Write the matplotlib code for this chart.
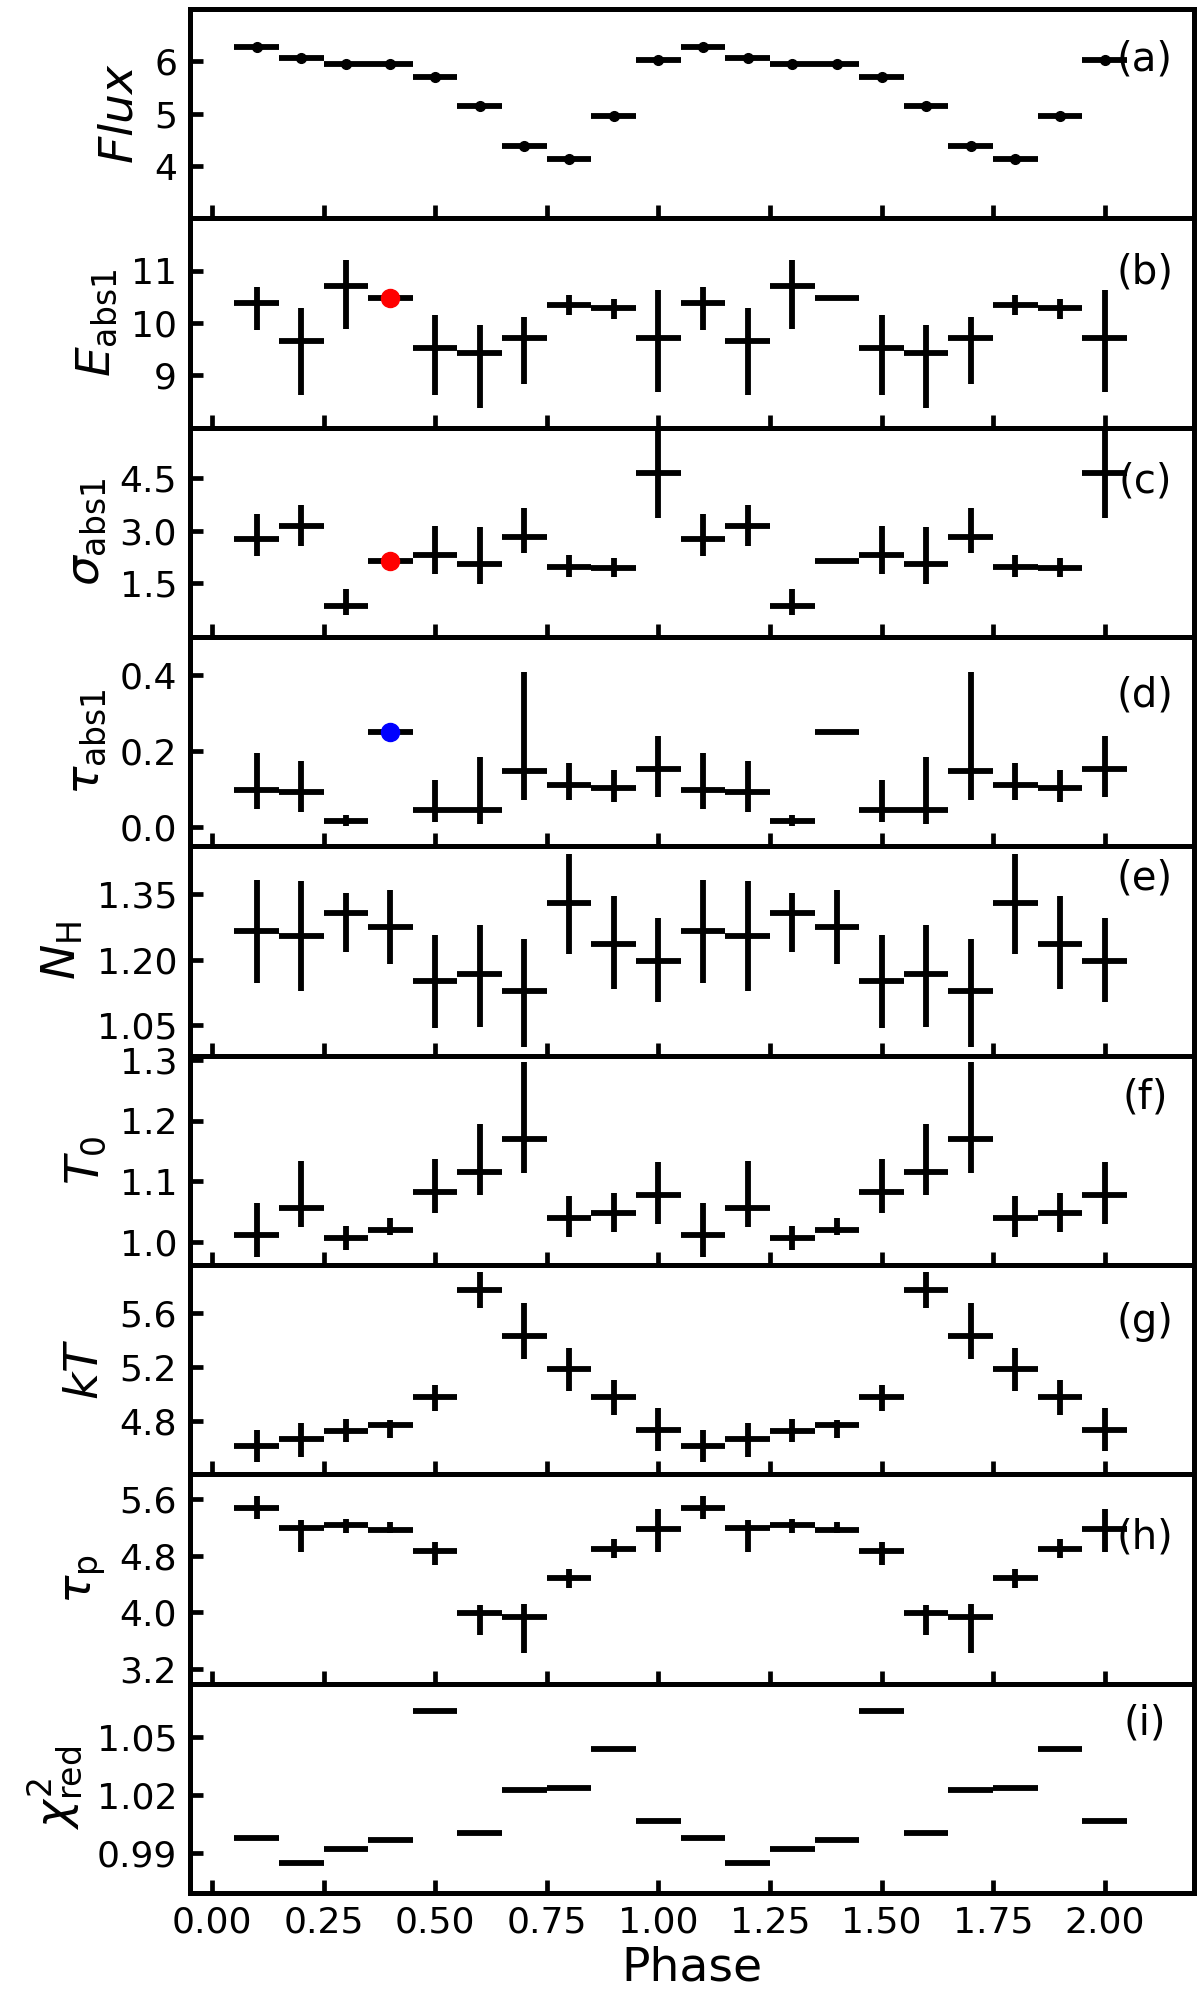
import matplotlib
matplotlib.use("Agg")
import matplotlib.pyplot as plt
import numpy as np

# phase bins of one cycle, the second cycle (1.1 - 2.0) repeats them
phase_cycle = [0.1, 0.2, 0.3, 0.4, 0.5, 0.6, 0.7, 0.8, 0.9, 1.0]
bin_halfwidth = 0.05

# value, lower bound, upper bound of each parameter over one cycle
flux = [6.27, 6.07, 5.94, 5.95, 5.71, 5.14, 4.39, 4.13, 4.95, 6.02]
flux_lo = [6.24, 6.04, 5.91, 5.92, 5.68, 5.11, 4.36, 4.10, 4.92, 5.99]
flux_hi = [6.30, 6.10, 5.97, 5.98, 5.74, 5.17, 4.42, 4.16, 4.98, 6.05]

e_abs = [10.38, 9.65, 10.71, 10.48, 9.53, 9.42, 9.71, 10.35, 10.29, 9.71]
e_abs_lo = [9.86, 8.62, 9.89, 10.45, 8.62, 8.38, 8.83, 10.15, 10.08, 8.68]
e_abs_hi = [10.68, 10.28, 11.21, 10.51, 10.15, 9.97, 10.12, 10.53, 10.46, 10.64]

sig_abs = [2.76, 3.14, 0.85, 2.14, 2.31, 2.05, 2.83, 1.95, 1.93, 4.66]
sig_abs_lo = [2.26, 2.55, 0.59, 2.11, 1.76, 1.47, 2.35, 1.66, 1.66, 3.35]
sig_abs_hi = [3.48, 3.72, 1.33, 2.17, 3.14, 3.10, 3.65, 2.29, 2.22, 6.30]

tau_abs = [0.099, 0.092, 0.016, 0.251, 0.045, 0.045, 0.148, 0.111, 0.102, 0.152]
tau_abs_lo = [0.048, 0.040, 0.003, 0.250, 0.014, 0.009, 0.073, 0.071, 0.066, 0.080]
tau_abs_hi = [0.196, 0.174, 0.033, 0.252, 0.124, 0.185, 0.407, 0.168, 0.150, 0.240]

nh = [1.265, 1.254, 1.307, 1.274, 1.151, 1.167, 1.128, 1.329, 1.237, 1.198]
nh_lo = [1.147, 1.128, 1.217, 1.190, 1.043, 1.046, 1.000, 1.212, 1.132, 1.103]
nh_hi = [1.383, 1.380, 1.352, 1.359, 1.256, 1.279, 1.248, 1.443, 1.345, 1.295]

t0 = [1.012, 1.056, 1.006, 1.020, 1.083, 1.115, 1.170, 1.039, 1.047, 1.078]
t0_lo = [0.976, 1.025, 0.986, 1.011, 1.047, 1.078, 1.113, 1.008, 1.017, 1.030]
t0_hi = [1.064, 1.133, 1.026, 1.039, 1.137, 1.194, 1.296, 1.075, 1.080, 1.131]

kt = [4.614, 4.663, 4.725, 4.768, 4.974, 5.774, 5.434, 5.188, 4.979, 4.730]
kt_lo = [4.490, 4.532, 4.639, 4.671, 4.870, 5.640, 5.257, 5.024, 4.845, 4.576]
kt_hi = [4.728, 4.780, 4.812, 4.807, 5.068, 5.910, 5.680, 5.344, 5.106, 4.892]

tau_p = [5.471, 5.184, 5.227, 5.160, 4.857, 3.990, 3.938, 4.478, 4.896, 5.179]
tau_p_lo = [5.313, 4.843, 5.112, 5.112, 4.666, 3.689, 3.436, 4.344, 4.762, 4.843]
tau_p_hi = [5.638, 5.300, 5.313, 5.265, 4.986, 4.110, 4.120, 4.610, 5.034, 5.447]

chi2 = [0.9978, 0.9846, 0.9917, 0.9967, 1.0637, 1.0002, 1.0226, 1.0235, 1.0440, 1.0063]
chi2_lo = [0.9973, 0.9841, 0.9912, 0.9962, 1.0632, 0.9997, 1.0221, 1.0230, 1.0435, 1.0058]
chi2_hi = [0.9983, 0.9851, 0.9922, 0.9972, 1.0642, 1.0007, 1.0231, 1.0240, 1.0445, 1.0068]

# highlighted point of the first cycle
mark_phase = 0.4

panels = [
    (r"$Flux$", flux, flux_lo, flux_hi, "(a)", [4, 5, 6], "%d", (3, 7), 0.757, None),
    (r"$E_{\rm abs1}$", e_abs, e_abs_lo, e_abs_hi, "(b)", [9, 10, 11], "%d", (8, 12), 0.74, "red"),
    (r"$\sigma_{\rm abs1}$", sig_abs, sig_abs_lo, sig_abs_hi, "(c)", [1.5, 3.0, 4.5], "%.1f", (-0.05, 5.95), 0.745, "red"),
    (r"$\tau_{\rm abs1}$", tau_abs, tau_abs_lo, tau_abs_hi, "(d)", [0.0, 0.2, 0.4], "%.1f", (-0.05, 0.5), 0.72, "blue"),
    (r"$N_{\rm H}$", nh, nh_lo, nh_hi, "(e)", [1.05, 1.20, 1.35], "%.2f", (0.98, 1.46), 0.845, None),
    (r"$T_0$", t0, t0_lo, t0_hi, "(f)", [1.0, 1.1, 1.2, 1.3], "%.1f", (0.962, 1.307), 0.80, None),
    (r"$kT$", kt, kt_lo, kt_hi, "(g)", [4.8, 5.2, 5.6], "%.1f", (4.40, 5.96), 0.73, None),
    (r"$\tau_{\rm p}$", tau_p, tau_p_lo, tau_p_hi, "(h)", [3.2, 4.0, 4.8, 5.6], "%.1f", (3.0, 5.94), 0.70, None),
    (r"$\chi^2_{\rm red}$", chi2, chi2_lo, chi2_hi, "(i)", [0.99, 1.02, 1.05], "%.2f", (0.969, 1.078), 0.81, None),
]

phase = np.concatenate([phase_cycle, np.array(phase_cycle) + 1.0])

fig, axes = plt.subplots(9, 1, figsize=(12, 20), dpi=100, sharex=True)
fig.subplots_adjust(left=0.158, right=0.995, top=0.9955, bottom=0.0535, hspace=0)

for ax, (lab, val, lo, hi, tag, yt, fmt, ylim, tag_y, dot) in zip(axes, panels):
    v = np.tile(val, 2)
    yerr = [v - np.tile(lo, 2), np.tile(hi, 2) - v]
    if tag == "(a)":
        ax.errorbar(phase, v, xerr=bin_halfwidth, yerr=yerr, fmt="o", color="k",
                    ms=7, elinewidth=4.2, capsize=0)
    else:
        ax.errorbar(phase, v, xerr=bin_halfwidth, yerr=yerr, fmt="none",
                    ecolor="k", elinewidth=4.2, capsize=0)
    if dot is not None:
        i = phase_cycle.index(mark_phase)
        ax.plot(phase_cycle[i], val[i], "o", color=dot, ms=13, zorder=5)

    ax.set_ylim(*ylim)
    ax.set_yticks(yt)
    ax.set_yticklabels([fmt % t for t in yt])
    ax.set_ylabel(lab, fontsize=34, labelpad=8)
    ax.text(0.951, tag_y, tag, transform=ax.transAxes, ha="center", va="center", fontsize=29)

    for s in ax.spines.values():
        s.set_linewidth(3.6)
    ax.tick_params(axis="both", direction="in", length=9.5, width=3.4, labelsize=26, pad=9)
    ax.tick_params(top=False, right=False)

ax = axes[-1]
ax.set_xlim(-0.05, 2.2)
ax.set_xticks([0.0, 0.25, 0.5, 0.75, 1.0, 1.25, 1.5, 1.75, 2.0])
ax.set_xticklabels(["0.00", "0.25", "0.50", "0.75", "1.00", "1.25", "1.50", "1.75", "2.00"])
ax.set_xlabel("Phase", fontsize=34)

fig.savefig("out.png", dpi=100)
